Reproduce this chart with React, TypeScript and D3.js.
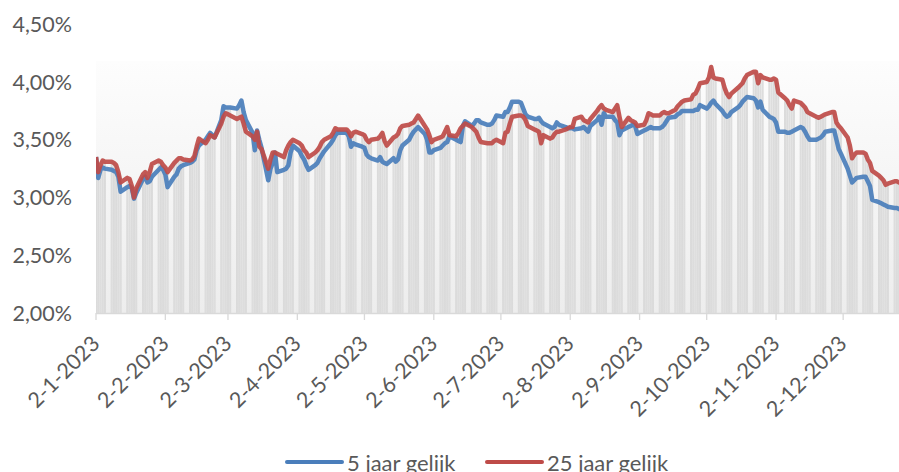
import * as d3 from 'd3';

// weekly rows, Mon..Fri, 2-1-2023 up to 29-12-2023
const rente5 = [
  3.35, 3.17, 3.24, 3.26, 3.25,
  3.24, 3.23, 3.22, 3.18, 3.05,
  3.09, 3.10, 3.08, 2.99, 3.04,
  3.16, 3.18, 3.13, 3.14, 3.18,
  3.24, 3.26, 3.24, 3.20, 3.09,
  3.18, 3.20, 3.25, 3.27, 3.28,
  3.30, 3.31, 3.33, 3.41, 3.45,
  3.50, 3.53, 3.56, 3.54, 3.52,
  3.67, 3.79, 3.78, 3.78, 3.78,
  3.77, 3.80, 3.84, 3.74, 3.67,
  3.56, 3.41, 3.58, 3.50, 3.43,
  3.15, 3.25, 3.30, 3.39, 3.22,
  3.24, 3.25, 3.28, 3.39, 3.45,
  3.40, 3.36, 3.33, 3.28, 3.24,
  3.28, 3.30, 3.34, 3.37, 3.40,
  3.47, 3.50, 3.54, 3.56, 3.56,
  3.56, 3.53, 3.44, 3.47, 3.46,
  3.44, 3.43, 3.37, 3.35, 3.34,
  3.32, 3.35, 3.31, 3.30, 3.29,
  3.34, 3.31, 3.33, 3.41, 3.45,
  3.50, 3.54, 3.57, 3.59, 3.61,
  3.55, 3.50, 3.39, 3.39, 3.41,
  3.43, 3.45, 3.47, 3.48, 3.53,
  3.50, 3.49, 3.48, 3.62, 3.66,
  3.62, 3.64, 3.67, 3.67, 3.65,
  3.63, 3.63, 3.64, 3.67, 3.71,
  3.70, 3.74, 3.74, 3.78, 3.83,
  3.83, 3.82, 3.77, 3.72, 3.70,
  3.68, 3.68, 3.69, 3.66, 3.64,
  3.61, 3.60, 3.61, 3.65, 3.63,
  3.61, 3.60, 3.60, 3.60, 3.59,
  3.60, 3.61, 3.59, 3.57, 3.62,
  3.67, 3.70, 3.63, 3.73, 3.70,
  3.70, 3.67, 3.65, 3.54, 3.58,
  3.61, 3.62, 3.63, 3.62, 3.55,
  3.58, 3.59, 3.60, 3.61, 3.60,
  3.60, 3.61, 3.63, 3.66, 3.69,
  3.70, 3.72, 3.73, 3.75, 3.75,
  3.75, 3.75, 3.76, 3.76, 3.80,
  3.77, 3.79, 3.82, 3.84, 3.81,
  3.75, 3.72, 3.70, 3.71, 3.74,
  3.78, 3.80, 3.83, 3.85, 3.87,
  3.86, 3.84, 3.78, 3.83, 3.76,
  3.70, 3.69, 3.68, 3.65, 3.57,
  3.57, 3.56, 3.56, 3.57, 3.58,
  3.61, 3.60, 3.57, 3.53, 3.50,
  3.50, 3.51, 3.52, 3.54, 3.57,
  3.58, 3.58, 3.50, 3.42, 3.38,
  3.25, 3.19, 3.13, 3.15, 3.17,
  3.18, 3.18, 3.14, 3.10, 2.98,
  2.96, 2.95, 2.94, 2.93, 2.92,
  2.91, 2.91, 2.90, 2.89, 2.88,
];

const rente25 = [
  3.35, 3.22, 3.28, 3.32, 3.31,
  3.31, 3.30, 3.28, 3.22, 3.13,
  3.17, 3.16, 3.10, 3.00, 3.08,
  3.20, 3.22, 3.17, 3.22, 3.29,
  3.32, 3.31, 3.28, 3.26, 3.22,
  3.30, 3.32, 3.34, 3.34, 3.33,
  3.32, 3.33, 3.36, 3.44, 3.51,
  3.47, 3.50, 3.54, 3.53, 3.52,
  3.64, 3.70, 3.73, 3.72, 3.71,
  3.68, 3.69, 3.70, 3.64, 3.57,
  3.53, 3.50, 3.57, 3.44, 3.42,
  3.25, 3.33, 3.39, 3.39, 3.38,
  3.35, 3.41, 3.45, 3.48, 3.50,
  3.47, 3.45, 3.41, 3.39, 3.35,
  3.39, 3.41, 3.44, 3.48, 3.50,
  3.53, 3.56, 3.60, 3.59, 3.59,
  3.59, 3.57, 3.53, 3.56, 3.57,
  3.55, 3.54, 3.50, 3.48, 3.50,
  3.51, 3.53, 3.56, 3.49, 3.45,
  3.52, 3.53, 3.55, 3.60, 3.62,
  3.63, 3.64, 3.65, 3.68, 3.71,
  3.62, 3.59, 3.54, 3.48, 3.50,
  3.52, 3.53, 3.57, 3.61, 3.54,
  3.53, 3.56, 3.60, 3.62, 3.64,
  3.61, 3.59, 3.57, 3.52, 3.48,
  3.47, 3.47, 3.47, 3.49, 3.50,
  3.47, 3.56, 3.57, 3.64, 3.70,
  3.71, 3.71, 3.70, 3.67, 3.62,
  3.59, 3.58, 3.57, 3.47, 3.54,
  3.51, 3.52, 3.55, 3.57, 3.57,
  3.59, 3.60, 3.61, 3.61, 3.68,
  3.70, 3.67, 3.66, 3.65, 3.68,
  3.75, 3.78, 3.80, 3.77, 3.76,
  3.74, 3.77, 3.80, 3.70, 3.61,
  3.69, 3.67, 3.66, 3.65, 3.62,
  3.63, 3.67, 3.73, 3.72, 3.71,
  3.71, 3.73, 3.74, 3.73, 3.73,
  3.76, 3.79, 3.81, 3.83, 3.84,
  3.85, 3.89, 3.90, 3.94, 3.99,
  4.00, 4.04, 4.13, 4.04, 4.03,
  4.02, 3.95, 3.90, 3.87, 3.90,
  3.95, 3.97, 3.99, 4.03, 4.06,
  4.09, 4.09, 3.99, 4.06, 4.04,
  4.02, 4.02, 4.03, 4.02, 3.91,
  3.86, 3.84, 3.80, 3.77, 3.84,
  3.82, 3.80, 3.78, 3.74, 3.73,
  3.70, 3.69, 3.70, 3.71, 3.72,
  3.74, 3.74, 3.65, 3.62, 3.60,
  3.52, 3.45, 3.34, 3.37, 3.39,
  3.39, 3.38, 3.33, 3.30, 3.23,
  3.19, 3.17, 3.15, 3.11, 3.12,
  3.14, 3.14, 3.13, 3.13, 3.13,
];

const yTicks = [2, 2.5, 3, 3.5, 4, 4.5];
const monthTicks = d3.range(0, 12).map((m) => new Date(2023, m, 2));
const seriesNames = ['5 jaar gelijk', '25 jaar gelijk'];
const seriesColors = ['#4a7ebb', '#be4b48'];

// business days only (weekends are gaps on the date axis)
const days = d3.timeDay
  .range(new Date(2023, 0, 2), new Date(2023, 11, 30))
  .filter((d) => d.getDay() !== 0 && d.getDay() !== 6);

const width = 899;
const height = 472;
const left = 96;
const bottom = 313;
const dayW = 2.237;
const font = 'Lato, "Open Sans", sans-serif';
const textColor = '#595959';

const x = d3.scaleTime()
  .domain([new Date(2023, 0, 2), new Date(2023, 11, 29)])
  .range([left, left + 361 * dayW]);
const y = d3.scaleLinear().domain([2, 4.5]).range([bottom, 24.3]);

const fmtY = (v: number) => v.toFixed(2).replace('.', ',') + '%';
const fmtX = d3.timeFormat('%-d-%-m-%Y');

export default function App() {
  const line = d3.line<number>()
    .x((_, i) => x(days[i]))
    .y((d) => y(d));

  return (
    <svg width={width} height={height} style={{ position: 'absolute', left: 0, top: 0, background: '#fff' }}>
      <defs>
        <linearGradient id="plotBg" x1="0" y1="0" x2="0" y2="1">
          <stop offset="0" stopColor="#fdfdfd" />
          <stop offset="1" stopColor="#ededed" />
        </linearGradient>
        <linearGradient id="barFill" x1="0" y1="0" x2="1" y2="0">
          <stop offset="0" stopColor="#d6d6d6" />
          <stop offset="0.5" stopColor="#dedede" />
          <stop offset="1" stopColor="#d6d6d6" />
        </linearGradient>
        <clipPath id="plotClip">
          <rect x={left} y={0} width={width - left} height={bottom} />
        </clipPath>
      </defs>

      <rect x={left} y={61} width={width - left} height={bottom - 61} fill="url(#plotBg)" />

      <g clipPath="url(#plotClip)">
        {days.map((d, i) => {
          const v = Math.max(rente5[i], rente25[i]);
          return (
            <rect
              key={i}
              x={x(d) - dayW * 0.42}
              y={y(v)}
              width={dayW * 0.84}
              height={bottom - y(v)}
              fill="url(#barFill)"
            />
          );
        })}
        <path d={line(rente5) ?? ''} fill="none" stroke={seriesColors[0]} strokeWidth={4.5} strokeLinejoin="round" strokeOpacity={0.92} />
        <path d={line(rente25) ?? ''} fill="none" stroke={seriesColors[1]} strokeWidth={4.5} strokeLinejoin="round" strokeOpacity={0.92} />
      </g>

      {/* x axis */}
      <line x1={left} x2={width} y1={bottom + 0.5} y2={bottom + 0.5} stroke="#d9d9d9" strokeWidth={1.3} />
      {monthTicks.map((t, i) => (
        <g key={i}>
          <line x1={x(t)} x2={x(t)} y1={bottom} y2={bottom + 7} stroke="#d9d9d9" strokeWidth={1.3} />
          <text
            transform={`translate(${x(t) + 5},${bottom + 32}) rotate(-45)`}
            textAnchor="end"
            fontFamily={font}
            fontSize={21.5}
            fill={textColor}
          >
            {fmtX(t)}
          </text>
        </g>
      ))}

      {/* y labels */}
      {yTicks.map((t) => (
        <text key={t} x={72} y={y(t)} dy="0.35em" textAnchor="end" fontFamily={font} fontSize={21.5} fill={textColor}>
          {fmtY(t)}
        </text>
      ))}

      {/* legend, cut off at the bottom edge like the original */}
      {seriesNames.map((n, i) => {
        const lx = i === 0 ? 287 : 487;
        return (
          <g key={n}>
            <line x1={lx} x2={lx + 55} y1={462} y2={462} stroke={seriesColors[i]} strokeWidth={4} strokeLinecap="round" />
            <text x={lx + 60} y={471} fontFamily={font} fontSize={22} fill={textColor}>{n}</text>
          </g>
        );
      })}
    </svg>
  );
}
